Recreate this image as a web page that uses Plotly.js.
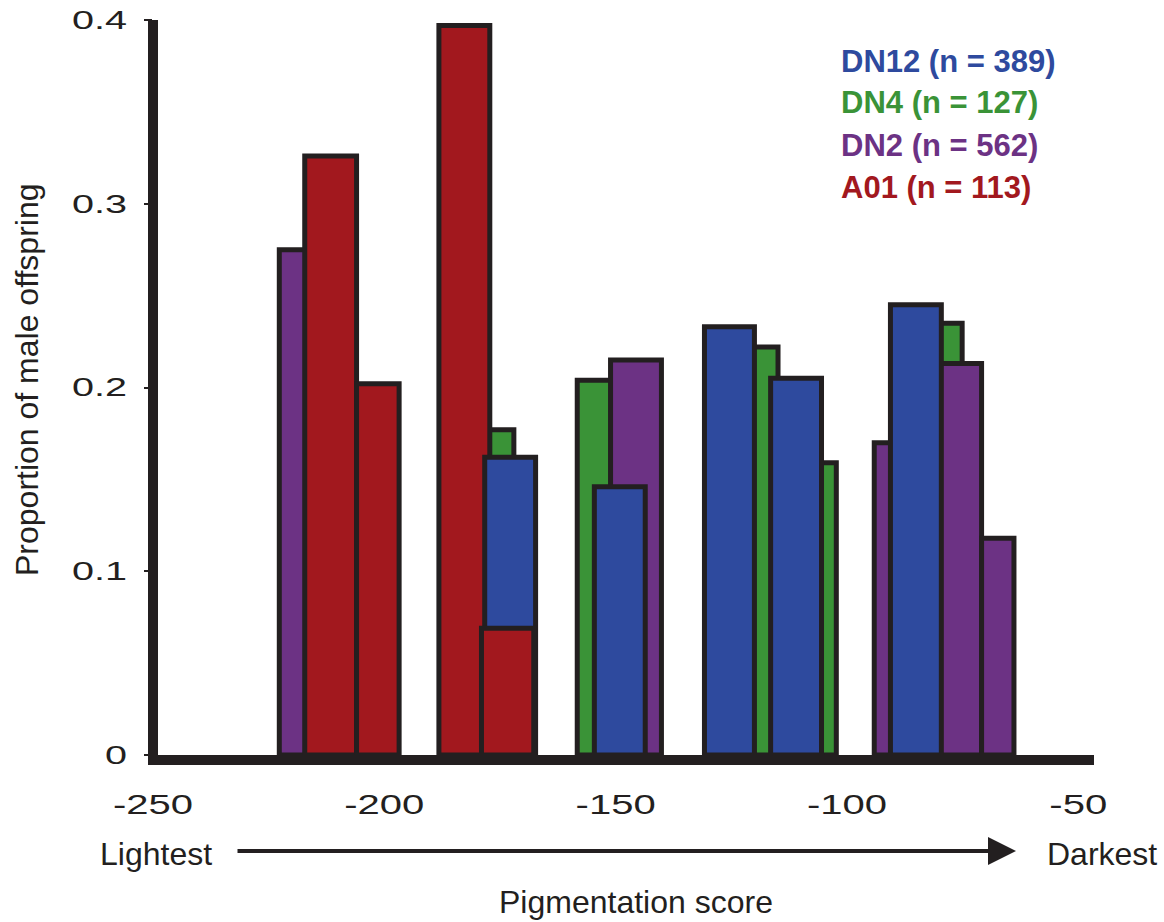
<!DOCTYPE html>
<html>
<head>
<meta charset="utf-8">
<script src="https://cdn.plot.ly/plotly-3.0.1.min.js"></script>
<style>
  html, body { margin: 0; padding: 0; background: #ffffff; }
  #chart { width: 1164px; height: 922px; }
</style>
</head>
<body>
<div id="chart"></div>
<script>
// ---------- data ----------
const seriesNames = ['DN12', 'DN4', 'DN2', 'A01'];
const seriesN = [389, 127, 562, 113];

// bin edges (pigmentation score) and proportion of male offspring
const dn12Left  = [-178.3, -154.6, -130.8, -116.5, -90.6];
const dn12Right = [-167.3, -143.6, -120.0, -105.5, -79.6];
const dn12Prop  = [0.162, 0.146, 0.233, 0.205, 0.245];

const dn4Left  = [-183.1, -158.3, -126.1, -113.4, -86.2];
const dn4Right = [-172.0, -147.1, -114.9, -102.3, -75.1];
const dn4Prop  = [0.177, 0.204, 0.222, 0.159, 0.235];

const dn2Left  = [-222.7, -151.1, -94.1, -82.0, -70.9];
const dn2Right = [-211.5, -140.1, -82.9, -70.9, -63.9];
const dn2Prop  = [0.275, 0.215, 0.170, 0.213, 0.118];

const a01Left  = [-217.2, -206.0, -188.2, -179.0];
const a01Right = [-206.0, -196.8, -177.2, -167.7];
const a01Prop  = [0.326, 0.202, 0.397, 0.069];

const xTickVals = [-250, -200, -150, -100, -50];
const xTickText = ['-250', '-200', '-150', '-100', '-50'];
const yTickVals = [0, 0.1, 0.2, 0.3, 0.4];
const yTickText = ['0', '0.1', '0.2', '0.3', '0.4'];

// ---------- styling ----------
const colors = { DN12: '#2e4a9e', DN4: '#3a9337', DN2: '#6c3284', A01: '#a2181e' };
const ink = '#231f20';
const W = 1164, H = 922;
const M = { l: 153, r: 70, t: 20, b: 167 };
const PW = W - M.l - M.r, PH = H - M.t - M.b;
const px = x => (x - M.l) / PW;       // pixel -> paper x
const py = y => (M.t + PH - y) / PH;  // pixel -> paper y

function barTrace(name, left, right, prop, idx) {
  const ids = idx || left.map((_, i) => i);
  return {
    type: 'bar',
    name: name,
    x: ids.map(i => (left[i] + right[i]) / 2),
    width: ids.map(i => right[i] - left[i]),
    y: ids.map(i => prop[i]),
    marker: { color: colors[name], line: { color: ink, width: 5 } },
    showlegend: false,
    hoverinfo: 'x+y+name'
  };
}

const traces = [
  barTrace('DN4', dn4Left, dn4Right, dn4Prop),
  barTrace('DN2', dn2Left, dn2Right, dn2Prop),
  barTrace('A01', a01Left, a01Right, a01Prop, [0, 1, 2]),
  barTrace('DN12', dn12Left, dn12Right, dn12Prop),
  barTrace('A01', a01Left, a01Right, a01Prop, [3])
];

const legendY = [61, 103, 146, 187];
const annotations = seriesNames.map((s, i) => ({
  xref: 'paper', yref: 'paper', x: px(839), y: py(legendY[i]),
  xanchor: 'left', yanchor: 'middle', showarrow: false,
  text: '<b>' + s + ' (n = ' + seriesN[i] + ')</b>',
  font: { family: 'Liberation Sans, Arial, sans-serif', size: 31, color: colors[s] }
}));

annotations.push(
  { xref: 'paper', yref: 'paper', x: px(27), y: py(380), textangle: -90,
    xanchor: 'center', yanchor: 'middle', showarrow: false,
    text: 'Proportion of male offspring',
    font: { family: 'Liberation Sans, Arial, sans-serif', size: 32, color: ink } },
  { xref: 'paper', yref: 'paper', x: px(636), y: py(902), xanchor: 'center', yanchor: 'middle',
    showarrow: false, text: 'Pigmentation score',
    font: { family: 'Liberation Sans, Arial, sans-serif', size: 32, color: ink } },
  { xref: 'paper', yref: 'paper', x: px(156), y: py(854), xanchor: 'center', yanchor: 'middle',
    showarrow: false, text: 'Lightest',
    font: { family: 'Liberation Sans, Arial, sans-serif', size: 32, color: ink } },
  { xref: 'paper', yref: 'paper', x: px(1102), y: py(854), xanchor: 'center', yanchor: 'middle',
    showarrow: false, text: 'Darkest',
    font: { family: 'Liberation Sans, Arial, sans-serif', size: 32, color: ink } },
  { xref: 'paper', yref: 'paper', x: px(1016), y: py(851), text: '',
    showarrow: true, axref: 'pixel', ayref: 'pixel', ax: 236 - 1016, ay: 0,
    arrowhead: 2, arrowsize: 1.4, arrowwidth: 4, arrowcolor: ink, standoff: 0 }
);

const shapes = [
  // y axis line
  { type: 'line', xref: 'paper', yref: 'paper', x0: px(153), x1: px(153), y0: 1, y1: py(765),
    line: { color: ink, width: 10 }, layer: 'above' },
  // x axis line
  { type: 'line', xref: 'paper', yref: 'paper', x0: px(148), x1: px(1094), y0: py(760), y1: py(760),
    line: { color: ink, width: 10 }, layer: 'above' }
];

const layout = {
  width: W, height: H,
  margin: M,
  paper_bgcolor: '#ffffff', plot_bgcolor: '#ffffff',
  barmode: 'overlay',
  bargap: 0,
  showlegend: false,
  xaxis: {
    range: [-250, -46.6], showgrid: false, zeroline: false, showline: false,
    tickmode: 'array', tickvals: xTickVals, ticktext: xTickText, ticks: '',
    ticklabelstandoff: 30,
    tickfont: { family: 'Liberation Sans, Arial, sans-serif', size: 28, color: ink }
  },
  yaxis: {
    range: [0, 0.4], showgrid: false, zeroline: false, showline: false,
    tickmode: 'array', tickvals: yTickVals, ticktext: yTickText,
    ticks: 'outside', ticklen: 8, tickwidth: 2, tickcolor: ink,
    ticklabelstandoff: 12,
    tickfont: { family: 'Liberation Sans, Arial, sans-serif', size: 25.5, color: ink }
  },
  shapes: shapes,
  annotations: annotations
};

Plotly.newPlot('chart', traces, layout, { displayModeBar: false, staticPlot: true }).then(() => {
  const stretch = (sel, f) => document.querySelectorAll(sel).forEach(t => {
    const w = t.getComputedTextLength();
    t.setAttribute('textLength', (w * f).toFixed(1));
    t.setAttribute('lengthAdjust', 'spacingAndGlyphs');
  });
  stretch('.xtick text', 1.43);
  stretch('.ytick text', 1.55);
});
</script>
</body>
</html>
